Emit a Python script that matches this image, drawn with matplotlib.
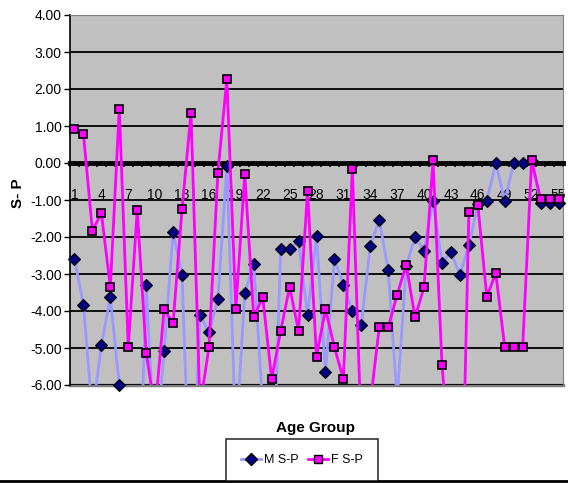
import numpy as np
import matplotlib
matplotlib.use("Agg")
import matplotlib.pyplot as plt
from matplotlib.lines import Line2D

plt.rcParams['font.family'] = ['Liberation Sans', 'DejaVu Sans']

# category index 1..55
groups = list(range(1, 56))
xtick_groups = list(range(1, 56, 3))

# values below -6 are off the chart (only the line stubs show)
m_sp = [-2.60, -3.83, -6.8, -4.92, -3.62, -6.00, -8.0, -11.0, -3.29, -8.0,
        -5.07, -1.87, -3.02, -10.0, -4.10, -4.58, -3.68, -0.08, -7.5, -3.52,
        -2.72, -6.6, -10.0, -2.32, -2.32, -2.12, -4.12, -1.98, -5.64, -2.60,
        -3.30, -3.99, -4.37, -2.23, -1.53, -2.90, -6.4, -2.79, -2.00, -2.37,
        -1.03, -2.70, -2.40, -3.02, -2.22, -1.10, -1.03, 0.00, -1.03, 0.00,
        0.00, 0.05, -1.07, -1.07, -1.07]
f_sp = [0.93, 0.78, -1.83, -1.35, -3.35, 1.47, -4.98, -1.26, -5.14, -6.7,
        -3.95, -4.33, -1.24, 1.36, -6.6, -4.98, -0.26, 2.28, -3.95, -0.31,
        -4.17, -3.62, -5.84, -4.54, -3.35, -4.54, -0.76, -5.23, -3.95, -4.98,
        -5.84, -0.15, -7.4, -6.5, -4.44, -4.44, -3.56, -2.75, -4.17, -3.35,
        0.07, -5.46, -8.3, -12.0, -1.33, -1.14, -3.62, -2.97, -4.98, -4.98,
        -4.98, 0.07, -0.97, -0.97, -0.97]

W, H = 568, 483
fig = plt.figure(figsize=(W / 100, H / 100), dpi=100)
ax = fig.add_axes([70 / W, (H - 385) / H, 493 / W, 370 / H])
ax.set_facecolor('#C0C0C0')
ax.set_xlim(0.5, 55.5)
ax.set_ylim(-6, 4)

ax.set_yticks(range(-6, 5))
ax.set_yticklabels([f"{v:.2f}" for v in range(-6, 5)], fontsize=10)
ax.yaxis.grid(True, color='black', lw=1.3)
ax.set_axisbelow(True)
ax.tick_params(axis='y', length=4, width=1, direction='out', pad=2)

# category axis crosses at 0
ax.spines['bottom'].set_position(('data', 0))
ax.spines['bottom'].set_linewidth(3.5)
ax.spines['left'].set_linewidth(1.2)
for s in ['top', 'right']:
    ax.spines[s].set_color('#808080')
ax.axhline(-6, color='#808080', lw=2.5, zorder=0.5, clip_on=False)
ax.set_xticks(xtick_groups)
ax.set_xticklabels([str(g) for g in xtick_groups], fontsize=10)
ax.set_xticks(np.arange(0.5, 56, 1), minor=True)
ax.tick_params(axis='x', which='major', length=0, pad=18)
ax.tick_params(axis='x', which='minor', length=3, width=1.2, direction='out')

x = np.array(groups)
m = np.array(m_sp)
f = np.array(f_sp)

ax.plot(x, m, color='#9999FF', lw=2, zorder=3)
ax.plot(x[m >= -6], m[m >= -6], ls='none', marker='D', ms=6, mfc='#000080',
        mec='black', mew=0.8, zorder=4, clip_on=False)
ax.plot(x, f, color='#FF00FF', lw=2, zorder=5)
ax.plot(x[f >= -6], f[f >= -6], ls='none', marker='s', ms=6, mfc='#FF00FF',
        mec='black', mew=1.2, zorder=6, clip_on=False)

fig.text(18 / W, 1 - 193 / H, 'S- P', rotation=90, ha='center', va='center',
         fontsize=11, fontweight='bold')
fig.text(316 / W, 1 - 428 / H, 'Age Group', ha='center', va='center',
         fontsize=11, fontweight='bold')

handles = [
    Line2D([], [], color='#9999FF', lw=2, marker='D', ms=6, mfc='#000080', mec='black'),
    Line2D([], [], color='#FF00FF', lw=2, marker='s', ms=6, mfc='#FF00FF', mec='black'),
]
leg = fig.legend(handles, ['M S-P', 'F S-P'], loc='center', ncol=2,
                 bbox_to_anchor=(302 / W, 1 - 460 / H), fontsize=9,
                 frameon=True, fancybox=False, edgecolor='black',
                 handlelength=1.6, handletextpad=0.2, columnspacing=0.8,
                 borderpad=1.2)
leg.get_frame().set_linewidth(1.2)

fig.add_artist(Line2D([0, 1], [1 - 481 / H, 1 - 481 / H], transform=fig.transFigure,
                      color='black', lw=2))

fig.savefig('out.png', dpi=100, facecolor='white')
